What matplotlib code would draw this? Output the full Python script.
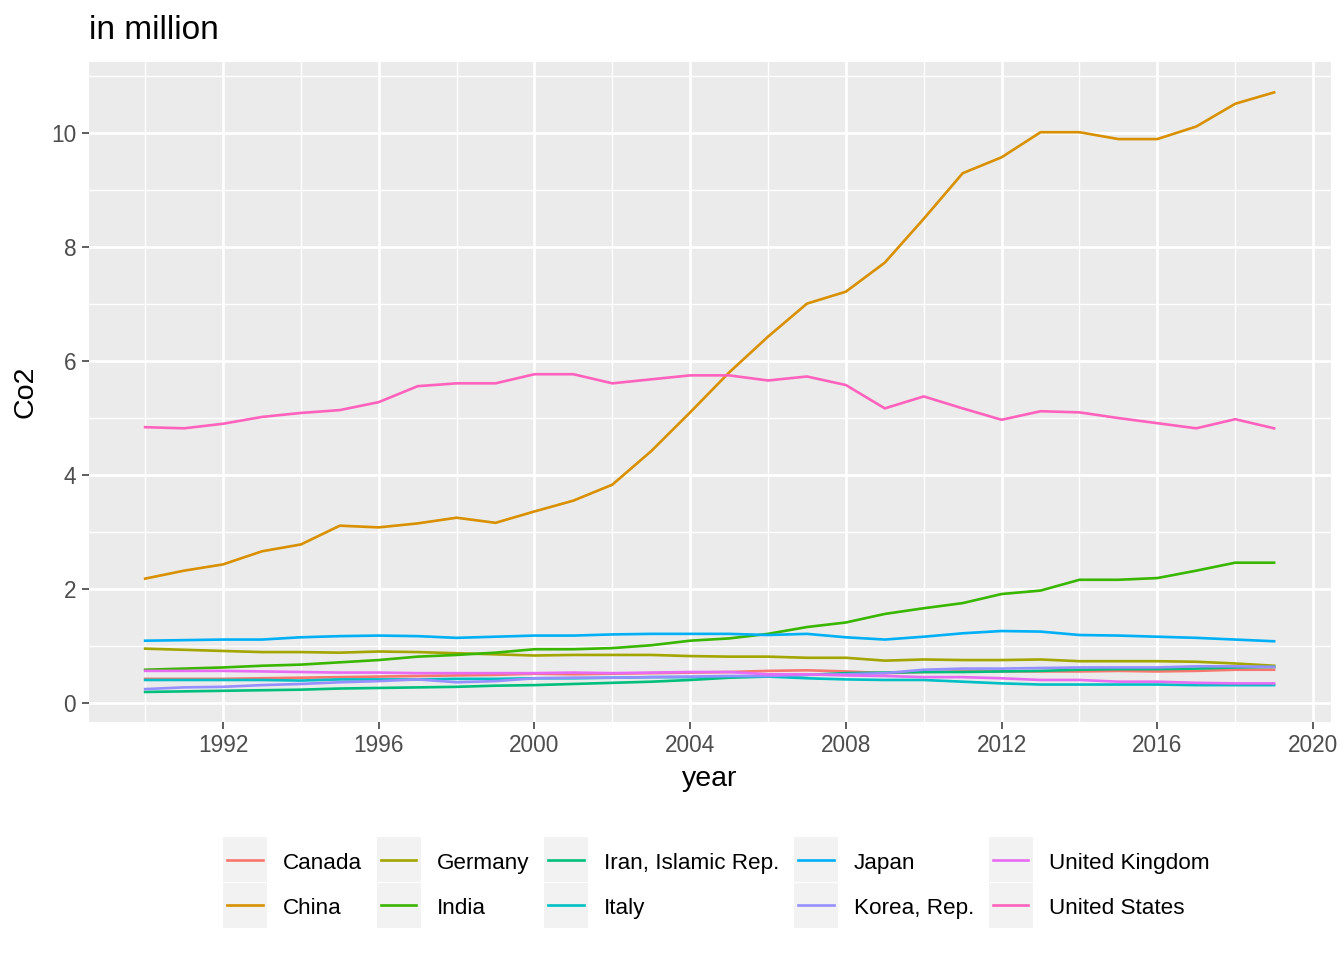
import numpy as np
import matplotlib.pyplot as plt
from matplotlib.patches import Rectangle
from matplotlib.lines import Line2D

plt.rcParams['font.family'] = ['Liberation Sans', 'DejaVu Sans']

years = list(range(1990, 2020))
countries = ["Canada", "China", "Germany", "India", "Iran, Islamic Rep.",
             "Italy", "Japan", "Korea, Rep.", "United Kingdom", "United States"]
colors = ["#F8766D", "#D89000", "#A3A500", "#39B600", "#00BF7D",
          "#00BFC4", "#00B0F6", "#9590FF", "#E76BF3", "#FF62BC"]

canada = [0.42, 0.42, 0.42, 0.43, 0.44, 0.45, 0.46, 0.47, 0.48, 0.49,
          0.51, 0.50, 0.51, 0.52, 0.53, 0.54, 0.56, 0.57, 0.55, 0.52,
          0.54, 0.55, 0.55, 0.55, 0.55, 0.56, 0.55, 0.56, 0.58, 0.58]
china = [2.18, 2.32, 2.43, 2.66, 2.78, 3.11, 3.08, 3.15, 3.25, 3.16,
         3.36, 3.55, 3.83, 4.42, 5.10, 5.80, 6.43, 7.01, 7.22, 7.73,
         8.50, 9.30, 9.58, 10.02, 10.02, 9.90, 9.90, 10.12, 10.52, 10.72]
germany = [0.95, 0.93, 0.91, 0.89, 0.89, 0.88, 0.90, 0.89, 0.87, 0.85,
           0.83, 0.84, 0.84, 0.84, 0.82, 0.81, 0.81, 0.79, 0.79, 0.74,
           0.76, 0.75, 0.75, 0.76, 0.73, 0.73, 0.73, 0.72, 0.69, 0.65]
india = [0.58, 0.60, 0.62, 0.65, 0.67, 0.71, 0.75, 0.81, 0.84, 0.88,
         0.94, 0.94, 0.96, 1.01, 1.09, 1.13, 1.21, 1.33, 1.41, 1.56,
         1.66, 1.75, 1.91, 1.97, 2.16, 2.16, 2.19, 2.32, 2.46, 2.46]
iran = [0.19, 0.20, 0.21, 0.22, 0.23, 0.25, 0.26, 0.27, 0.28, 0.30,
        0.31, 0.33, 0.35, 0.37, 0.40, 0.44, 0.46, 0.49, 0.52, 0.53,
        0.54, 0.54, 0.55, 0.56, 0.58, 0.59, 0.59, 0.60, 0.62, 0.63]
italy = [0.40, 0.40, 0.40, 0.40, 0.39, 0.41, 0.41, 0.41, 0.42, 0.42,
         0.43, 0.43, 0.44, 0.45, 0.45, 0.46, 0.46, 0.43, 0.41, 0.40,
         0.40, 0.37, 0.34, 0.32, 0.32, 0.32, 0.32, 0.31, 0.31, 0.31]
japan = [1.09, 1.10, 1.11, 1.11, 1.15, 1.17, 1.18, 1.17, 1.14, 1.16,
         1.18, 1.18, 1.20, 1.21, 1.21, 1.21, 1.19, 1.21, 1.15, 1.11,
         1.16, 1.22, 1.26, 1.25, 1.19, 1.18, 1.16, 1.14, 1.11, 1.08]
korea = [0.24, 0.27, 0.28, 0.31, 0.33, 0.36, 0.38, 0.41, 0.36, 0.38,
         0.43, 0.44, 0.44, 0.45, 0.46, 0.47, 0.47, 0.49, 0.50, 0.52,
         0.58, 0.60, 0.60, 0.61, 0.62, 0.62, 0.62, 0.64, 0.64, 0.63]
uk = [0.56, 0.56, 0.56, 0.55, 0.54, 0.53, 0.53, 0.52, 0.52, 0.52,
      0.52, 0.53, 0.52, 0.53, 0.54, 0.54, 0.50, 0.50, 0.48, 0.47,
      0.45, 0.45, 0.43, 0.40, 0.40, 0.37, 0.37, 0.35, 0.34, 0.34]
usa = [4.84, 4.82, 4.90, 5.02, 5.09, 5.14, 5.28, 5.56, 5.61, 5.61,
       5.77, 5.77, 5.61, 5.68, 5.75, 5.75, 5.66, 5.73, 5.58, 5.17,
       5.38, 5.17, 4.97, 5.12, 5.10, 5.00, 4.91, 4.82, 4.98, 4.82]

series = [canada, china, germany, india, iran, italy, japan, korea, uk, usa]


# ggplot-like legend key: grey box with the line across it
class KeyHandler:
    def legend_artist(self, legend, orig_handle, fontsize, handlebox):
        w, h = handlebox.width, handlebox.height
        xd, yd = handlebox.xdescent, handlebox.ydescent
        yc = (h - yd) / 2
        bh = 2.02 * fontsize
        tr = handlebox.get_transform()
        rect = Rectangle((-xd, yc - bh / 2), w, bh, facecolor='#F2F2F2',
                         edgecolor='none', transform=tr)
        line = Line2D([-xd + 0.1 * w, -xd + 0.9 * w], [yc, yc],
                      color=orig_handle.get_color(), lw=1.9, transform=tr)
        handlebox.add_artist(rect)
        handlebox.add_artist(line)
        return line


fig = plt.figure(figsize=(13.44, 9.6), dpi=100)
ax = fig.add_axes([0.066, 0.248, 0.924, 0.687])
ax.set_facecolor('#EBEBEB')

lines = []
for name, vals, col in zip(countries, series, colors):
    l, = ax.plot(years, vals, color=col, lw=1.9, label=name)
    lines.append(l)

allv = np.concatenate([np.array(s) for s in series])
yr = allv.max() - allv.min()
ax.set_ylim(allv.min() - 0.05 * yr, allv.max() + 0.05 * yr)
ax.set_xlim(1990 - 0.05 * 29, 2019 + 0.05 * 29)

ax.set_xticks([1992, 1996, 2000, 2004, 2008, 2012, 2016, 2020])
ax.set_xticks([1990, 1994, 1998, 2002, 2006, 2010, 2014, 2018], minor=True)
ax.set_yticks([0, 2, 4, 6, 8, 10])
ax.set_yticks([1, 3, 5, 7, 9, 11], minor=True)
ax.grid(which='major', color='white', lw=1.9)
ax.grid(which='minor', color='white', lw=0.95)
ax.set_axisbelow(True)
for s in ax.spines.values():
    s.set_visible(False)
ax.tick_params(which='major', length=5, width=1.1, color='#333333',
               labelsize=16.3, labelcolor='#4D4D4D', pad=4)
ax.tick_params(which='minor', length=0)

ax.set_xlabel('year', fontsize=20.5, labelpad=6)
ax.set_ylabel('Co2', fontsize=20.5, labelpad=9)
fig.text(0.066, 0.968, 'in million', fontsize=24, va='center', ha='left')

fig.legend(lines, countries, loc='center', bbox_to_anchor=(0.533, 0.078),
           ncol=5, frameon=False, fontsize=16.2,
           handler_map={Line2D: KeyHandler()},
           handlelength=1.95, handleheight=1.0, labelspacing=1.02,
           handletextpad=0.72, columnspacing=0.65, borderaxespad=0)

fig.savefig('out.png', dpi=100)
